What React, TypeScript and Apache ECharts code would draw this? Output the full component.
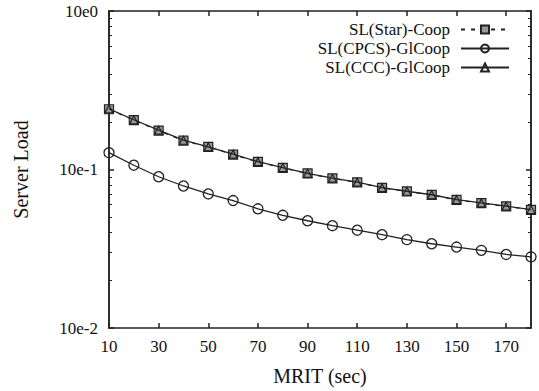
import React, { useEffect, useRef } from "react";
import * as echarts from "echarts";

const mrit = [10, 20, 30, 40, 50, 60, 70, 80, 90, 100, 110, 120, 130, 140, 150, 160, 170, 180];
const starCoop = [0.240, 0.205, 0.176, 0.152, 0.139, 0.124, 0.1117, 0.1025, 0.0944, 0.0879, 0.083, 0.0766, 0.0727, 0.0691, 0.0643, 0.0613, 0.0585, 0.0557];
const cpcsGlCoop = [0.1277, 0.1064, 0.09, 0.0787, 0.0701, 0.0637, 0.0565, 0.0514, 0.0475, 0.0442, 0.0414, 0.0388, 0.0361, 0.034, 0.0324, 0.0309, 0.0291, 0.0281];
const cccGlCoop = [0.241, 0.206, 0.177, 0.153, 0.139, 0.125, 0.112, 0.1028, 0.0946, 0.0881, 0.0832, 0.0768, 0.0729, 0.0693, 0.0645, 0.0615, 0.0587, 0.0559];
const xTickValues = [10, 30, 50, 70, 90, 110, 130, 150, 170];
const yMajorValues = [0.01, 0.1, 1];
const yMinorValues = [0.02, 0.03, 0.04, 0.05, 0.06, 0.07, 0.08, 0.09, 0.2, 0.3, 0.4, 0.5, 0.6, 0.7, 0.8, 0.9];
const yLabels: Record<string, string> = { "0.01": "10e-2", "0.1": "10e-1", "1": "10e0" };

const FONT = "Liberation Serif";

export default function App() {
  const ref = useRef<HTMLDivElement>(null);
  useEffect(() => {
    if (!ref.current) return;
    const chart = echarts.init(ref.current, undefined, { renderer: "svg" });
    const axisLine = { show: true, lineStyle: { color: "#222", width: 1.5 } };
    const serifRich = { s: { fontFamily: FONT, fontSize: 17, color: "#111" } };
    const baseY = (opts: any) => ({
      type: "log",
      logBase: 10,
      min: 0.01,
      max: 1,
      axisLine,
      splitLine: { show: false },
      minorTick: { show: false },
      ...opts,
    });
    const baseX = (opts: any) => ({
      type: "value",
      min: 10,
      max: 180,
      axisLine,
      splitLine: { show: false },
      ...opts,
    });
    const lineData = (vals: number[]) => mrit.map((x, i) => [x, vals[i]]);
    chart.setOption({
      animation: false,
      backgroundColor: "#fff",
      textStyle: { fontFamily: FONT },
      grid: { left: 109, right: 8, top: 11, bottom: 60, containLabel: false },
      legend: {
        right: 24,
        top: 16,
        orient: "vertical",
        align: "right",
        itemWidth: 48,
        itemHeight: 10,
        itemGap: 2,
        formatter: (name: string) => `{s|${name}}`,
        textStyle: { fontFamily: FONT, fontSize: 17, color: "#111", padding: [0, 6, 0, 0], rich: serifRich },
        data: ["SL(Star)-Coop", "SL(CPCS)-GlCoop", "SL(CCC)-GlCoop"],
      },
      xAxis: [
        baseX({
          position: "bottom",
          name: "MRIT (sec)",
          nameLocation: "middle",
          nameGap: 38,
          nameTextStyle: { fontFamily: FONT, fontSize: 20, color: "#111" },
          axisTick: { show: true, inside: true, length: 5, customValues: xTickValues, lineStyle: { color: "#222", width: 1.5 } },
          axisLabel: {
            show: true,
            customValues: xTickValues,
            margin: 10,
            fontFamily: FONT,
            fontSize: 17,
            color: "#111",
            formatter: (v: number) => `{s|${v}}`,
            rich: serifRich,
          },
        }),
        baseX({
          position: "top",
          axisTick: { show: true, inside: true, length: 5, customValues: xTickValues, lineStyle: { color: "#222", width: 1.5 } },
          axisLabel: { show: false },
        }),
      ],
      yAxis: [
        baseY({
          position: "left",
          name: "Server Load",
          nameLocation: "middle",
          nameGap: 78,
          nameTextStyle: { fontFamily: FONT, fontSize: 20, color: "#111" },
          axisTick: { show: true, inside: true, length: 5, customValues: yMajorValues, lineStyle: { color: "#222", width: 1.5 } },
          axisLabel: {
            show: true,
            customValues: yMajorValues,
            margin: 11,
            fontFamily: FONT,
            fontSize: 17,
            color: "#111",
            formatter: (v: number) => `{s|${yLabels[String(Number(v.toPrecision(3)))] ?? ""}}`,
            rich: serifRich,
          },
        }),
        baseY({
          position: "left",
          axisTick: { show: true, inside: true, length: 3, customValues: yMinorValues, lineStyle: { color: "#222", width: 1 } },
          axisLabel: { show: false },
        }),
        baseY({
          position: "right",
          axisTick: { show: true, inside: true, length: 5, customValues: yMajorValues, lineStyle: { color: "#222", width: 1.5 } },
          axisLabel: { show: false },
        }),
        baseY({
          position: "right",
          axisTick: { show: true, inside: true, length: 3, customValues: yMinorValues, lineStyle: { color: "#222", width: 1 } },
          axisLabel: { show: false },
        }),
      ],
      series: [
        {
          name: "SL(Star)-Coop",
          type: "line",
          data: lineData(starCoop),
          symbol: "rect",
          symbolSize: 9,
          showAllSymbol: true,
          lineStyle: { color: "#222", width: 1.3, type: [4, 6] },
          itemStyle: { color: "#9a9a9a", borderColor: "#222", borderWidth: 1.2 },
          z: 2,
        },
        {
          name: "SL(CPCS)-GlCoop",
          type: "line",
          data: lineData(cpcsGlCoop),
          symbol: "circle",
          symbolSize: 10,
          showAllSymbol: true,
          lineStyle: { color: "#222", width: 1.3 },
          itemStyle: { color: "transparent", borderColor: "#222", borderWidth: 1.3 },
          z: 3,
        },
        {
          name: "SL(CCC)-GlCoop",
          type: "line",
          data: lineData(cccGlCoop),
          symbol: "triangle",
          symbolSize: 8,
          showAllSymbol: true,
          lineStyle: { color: "#222", width: 1.3 },
          itemStyle: { color: "transparent", borderColor: "#222", borderWidth: 1.2 },
          z: 4,
        },
      ],
    });
    return () => chart.dispose();
  }, []);
  return <div ref={ref} style={{ width: 539, height: 391, position: "absolute", left: 0, top: 0 }} />;
}
